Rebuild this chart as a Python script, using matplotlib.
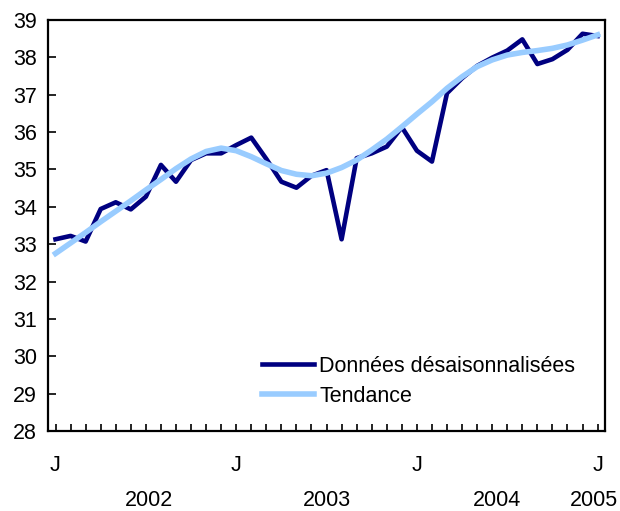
import matplotlib.pyplot as plt
import matplotlib.transforms as mtransforms

plt.rcParams['font.family'] = ['Liberation Sans', 'DejaVu Sans']

# Data: monthly, Jan 2002 .. Jan 2005
months = list(range(37))
donnees = [33.13, 33.22, 33.07, 33.94, 34.12, 33.93, 34.27, 35.12, 34.67, 35.25,
           35.43, 35.43, 35.65, 35.85, 35.28, 34.67, 34.51, 34.83, 34.98, 33.13,
           35.30, 35.43, 35.61, 36.13, 35.50, 35.21, 37.04, 37.44, 37.77, 37.99,
           38.18, 38.48, 37.82, 37.95, 38.20, 38.63, 38.57]
tendance = [32.75, 33.03, 33.31, 33.60, 33.88, 34.16, 34.45, 34.73, 35.02, 35.28,
            35.48, 35.57, 35.50, 35.34, 35.15, 34.97, 34.87, 34.83, 34.90, 35.05,
            35.25, 35.52, 35.81, 36.14, 36.48, 36.81, 37.17, 37.48, 37.75, 37.93,
            38.06, 38.13, 38.18, 38.24, 38.33, 38.46, 38.60]
month_labels = ['J' if m % 12 == 0 else '' for m in months]
years = ['2002', '2003', '2004', '2005']
year_pos = [6.2, 18, 29.3, 35.75]

fig = plt.figure(figsize=(6.2, 5.11), dpi=100)
ax = fig.add_axes([0.0774, 0.1566, 0.976 - 0.0774, 0.961 - 0.1566])

ax.plot(months, donnees, color='#000080', lw=3.3, label='Données désaisonnalisées')
ax.plot(months, tendance, color='#99CCFF', lw=4, label='Tendance')

ax.set_xlim(-0.5, 36.5)
ax.set_ylim(28, 39)
ax.set_yticks(range(28, 40))
ax.set_xticks(months)
ax.set_xticklabels(month_labels)
ax.tick_params(axis='x', direction='in', length=5, width=1.2, pad=17, labelsize=15.5)
ax.tick_params(axis='y', direction='in', length=6, width=1.2, pad=8, labelsize=15.5)
for s in ax.spines.values():
    s.set_linewidth(1.6)

trans = mtransforms.blended_transform_factory(ax.transData, fig.transFigure)
for y, x in zip(years, year_pos):
    ax.text(x, 0.02, y, transform=trans, ha='center', va='center', fontsize=15.5)

ax.legend(loc='upper left', frameon=False, fontsize=15.5, handlelength=2.4,
          handletextpad=0.25, labelspacing=0.4, borderpad=0, borderaxespad=0,
          bbox_to_anchor=(262 / 620, 1 - 356 / 511), bbox_transform=fig.transFigure)

fig.savefig('out.png', dpi=100)
